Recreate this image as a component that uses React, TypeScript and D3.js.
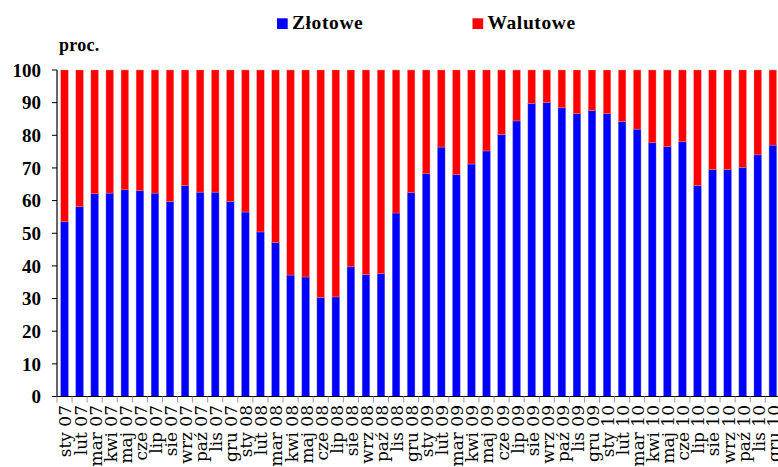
import React from "react";
import * as d3 from "d3";

const months = [
  "sty 07","lut 07","mar 07","kwi 07","maj 07","cze 07","lip 07","sie 07","wrz 07","paź 07","lis 07","gru 07",
  "sty 08","lut 08","mar 08","kwi 08","maj 08","cze 08","lip 08","sie 08","wrz 08","paź 08","lis 08","gru 08",
  "sty 09","lut 09","mar 09","kwi 09","maj 09","cze 09","lip 09","sie 09","wrz 09","paź 09","lis 09","gru 09",
  "sty 10","lut 10","mar 10","kwi 10","maj 10","cze 10","lip 10","sie 10","wrz 10","paź 10","lis 10","gru 10",
];

const zlotowe = [
  53.5, 58.1, 62.1, 62.3, 63.3, 63.0, 62.3, 59.7, 64.6, 62.6, 62.6, 59.7,
  56.5, 50.4, 47.1, 37.2, 36.6, 30.3, 30.5, 39.7, 37.3, 37.6, 56.2, 62.4,
  68.2, 76.4, 67.9, 71.2, 75.2, 80.2, 84.4, 89.8, 90.0, 88.4, 86.6, 87.6,
  86.6, 84.2, 81.9, 77.7, 76.5, 78.0, 64.6, 69.5, 69.5, 70.2, 74.0, 77.0,
];
const walutowe = zlotowe.map((z) => 100 - z);

const yTicks = [0, 10, 20, 30, 40, 50, 60, 70, 80, 90, 100];
const seriesNames = ["Złotowe", "Walutowe"];
const seriesColors = ["#0000ff", "#ff0000"];

const W = 778;
const H = 467;
const x0 = 57;
const step = 15.07;
const yTop = 70;
const yBottom = 396.5;
const BOLD_FONT = "'Liberation Serif', 'DejaVu Serif', serif";
const LABEL_FONT = "'DejaVu Serif', 'Liberation Serif', serif";

export default function App() {
  const x = d3
    .scaleBand<string>()
    .domain(months)
    .range([x0, x0 + step * months.length])
    .paddingInner(0.5)
    .paddingOuter(0.25);
  const y = d3.scaleLinear().domain([0, 100]).range([yBottom, yTop]);
  const bw = x.bandwidth();
  const stacked = months.map((m, i) => ({ m, z: zlotowe[i], w: walutowe[i] }));

  return (
    <svg
      width={W}
      height={H}
      style={{ position: "absolute", left: 0, top: 0, background: "#fff" }}
    >
      {/* bars */}
      {stacked.map((d) => {
        const bx = x(d.m)!;
        return (
          <g key={d.m}>
            <rect x={bx} y={y(d.z)} width={bw} height={y(0) - y(d.z)} fill={seriesColors[0]} stroke="#6a6acc" strokeWidth={0.4} />
            <rect x={bx} y={y(d.z + d.w)} width={bw} height={y(d.z) - y(d.z + d.w)} fill={seriesColors[1]} stroke="#ff9a9a" strokeWidth={0.4} />
          </g>
        );
      })}
      {/* y axis */}
      <line x1={x0} x2={x0} y1={yTop} y2={yBottom} stroke="#000" strokeWidth={1.2} />
      {yTicks.map((t) => (
        <g key={t}>
          <line x1={x0 - 5} x2={x0} y1={y(t)} y2={y(t)} stroke="#000" strokeWidth={1} />
          <text x={41} y={y(t)} dy="0.35em" textAnchor="end" fill="#000"
            style={{ fontFamily: BOLD_FONT, fontSize: 19, fontWeight: 700 }}>
            {t}
          </text>
        </g>
      ))}
      {/* x axis */}
      <line x1={x0} x2={W} y1={yBottom} y2={yBottom} stroke="#000" strokeWidth={1.2} />
      {months.map((m, i) => (
        <line key={"t" + m} x1={x0 + i * step} x2={x0 + i * step} y1={yBottom} y2={yBottom + 6} stroke="#999" strokeWidth={1} />
      ))}
      {months.map((m) => {
        const cx = x(m)! + bw / 2 + 1;
        return (
          <text
            key={"l" + m}
            transform={`translate(${cx},${405}) rotate(-90)`}
            dy="0.35em"
            textAnchor="end"
            fill="#000"
            style={{ fontFamily: LABEL_FONT, fontSize: 17 }}
          >
            {m}
          </text>
        );
      })}
      {/* unit label */}
      <text x={59} y={51} fill="#000" style={{ fontFamily: BOLD_FONT, fontSize: 18, fontWeight: 700, letterSpacing: 0.3 }}>proc.</text>
      {/* legend */}
      {seriesNames.map((n, i) => {
        const lx = i === 0 ? 277 : 472.5;
        return (
          <g key={n}>
            <rect x={lx} y={18.3} width={10.7} height={10.7} fill={seriesColors[i]} />
            <text x={lx + 15} y={29.3} fill="#000" style={{ fontFamily: BOLD_FONT, fontSize: 19.5, fontWeight: 700, letterSpacing: 0.6 }}>{n}</text>
          </g>
        );
      })}
    </svg>
  );
}
